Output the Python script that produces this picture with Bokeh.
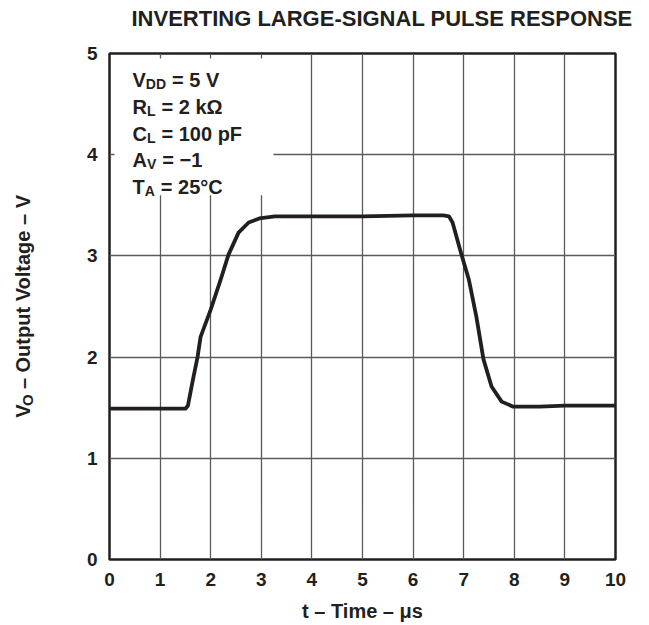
from bokeh.plotting import figure
from bokeh.layouts import row, column
from bokeh.models import Range1d, Label, BoxAnnotation, FixedTicker, Plot
from bokeh.embed import file_html
from bokeh.resources import INLINE
import math

# ---- data ----
time_us = [0, 0.5, 1.0, 1.5, 1.55, 1.65, 1.74, 1.80, 2.0, 2.2, 2.35, 2.55, 2.75,
           2.96, 3.27, 4, 5, 6, 6.6, 6.71, 6.78, 6.94, 7.1, 7.25, 7.39, 7.55,
           7.75, 7.98, 8.5, 9, 10]
vout = [1.49, 1.49, 1.49, 1.49, 1.52, 1.78, 2.0, 2.2, 2.47, 2.77, 3.01, 3.23, 3.33,
        3.37, 3.39, 3.39, 3.39, 3.40, 3.40, 3.39, 3.33, 3.04, 2.77, 2.40, 1.98, 1.71,
        1.56, 1.51, 1.51, 1.52, 1.52]
x_ticks = [0, 1, 2, 3, 4, 5, 6, 7, 8, 9, 10]
y_ticks = [0, 1, 2, 3, 4, 5]
title_text = "INVERTING LARGE-SIGNAL PULSE RESPONSE"
x_label = "t \u2013 Time \u2013 \u03bcs"
y_label_main = "V"
y_label_sub = "O"
y_label_rest = "\u2013 Output Voltage \u2013 V"
cond_main = ["V", "R", "C", "A", "T"]
cond_sub = ["DD", "L", "L", "V", "A"]
cond_rest = ["= 5 V", "= 2 k\u03a9", "= 100 pF", "= \u22121", "= 25\u00b0C"]

FONT = "Liberation Sans"
INK = "#231f20"

# Arial/Liberation Sans Bold advance widths (em)
ADV = {"V": 0.667, "R": 0.722, "C": 0.722, "A": 0.722, "T": 0.611,
       "D": 0.722, "L": 0.611, "O": 0.778}

def adv(s, size):
    return sum(ADV.get(c, 0.6) for c in s) * size

# ---- layout constants (canvas px) ----
LBL_W = 44
TITLE_H = 36
FR_L, FR_R, FR_T, FR_B = 109, 615, 53, 560
TOTAL_H = 624
BODY_H = TOTAL_H - TITLE_H
MAIN_W = (FR_R - LBL_W) + 26
px_x = 10.0 / (FR_R - FR_L)
px_y = 5.0 / (FR_B - FR_T)

def bare_plot(w, h):
    return Plot(width=w, height=h, output_backend="svg", toolbar_location=None,
                x_range=Range1d(0, w), y_range=Range1d(0, h), title=None,
                min_border=0, min_border_left=0, min_border_right=0,
                min_border_top=0, min_border_bottom=0, outline_line_color=None)

# ---- title strip ----
t = bare_plot(LBL_W + MAIN_W, TITLE_H)
t.add_layout(Label(x=131, y=TITLE_H - 18, text=title_text, text_font=FONT,
                   text_font_size="22px", text_font_style="bold", text_color=INK,
                   text_baseline="middle", text_align="left"))

# ---- main plot ----
p = figure(width=MAIN_W, height=BODY_H, output_backend="svg", toolbar_location=None,
           x_range=Range1d(0, 10), y_range=Range1d(0, 5),
           min_border_left=FR_L - LBL_W, min_border_right=26,
           min_border_top=FR_T - TITLE_H, min_border_bottom=TOTAL_H - FR_B)

p.outline_line_color = INK
p.outline_line_width = 2.5
p.outline_line_alpha = 1

for ax, ticks in ((p.xaxis, x_ticks), (p.yaxis, y_ticks)):
    ax.ticker = FixedTicker(ticks=ticks)
    ax.axis_line_color = None
    ax.major_tick_line_color = None
    ax.minor_tick_line_color = None
    ax.major_label_text_font = FONT
    ax.major_label_text_font_size = "19px"
    ax.major_label_text_font_style = "bold"
    ax.major_label_text_color = INK
p.xaxis.major_label_standoff = 7
p.yaxis.major_label_standoff = 6
p.xaxis.axis_label = x_label
p.xaxis.axis_label_text_font = FONT
p.xaxis.axis_label_text_font_size = "20px"
p.xaxis.axis_label_text_font_style = "bold"
p.xaxis.axis_label_text_color = INK
p.xaxis.axis_label_standoff = 11

p.xgrid.grid_line_color = "#5a5a5a"
p.ygrid.grid_line_color = "#5a5a5a"
p.xgrid.grid_line_width = 1.3
p.ygrid.grid_line_width = 1.3

p.line(time_us, vout, line_color=INK, line_width=3.8, line_join="round")

# white box behind the conditions
p.add_layout(BoxAnnotation(left=5 * px_x, right=(273 - FR_L) * px_x,
                           bottom=(FR_B - 195) * px_y, top=5 - 5 * px_y,
                           fill_color="white", fill_alpha=1, line_color=None,
                           level="overlay"))

# conditions text (baselines in canvas px)
baselines = [80, 106.7, 133.3, 160, 186.7]
x0 = (132 - FR_L) * px_x
for yb_px, m, s, r in zip(baselines, cond_main, cond_sub, cond_rest):
    yb = (FR_B - yb_px) * px_y
    p.add_layout(Label(x=x0, y=yb, text=m, text_font=FONT, text_font_size="20px",
                       text_font_style="bold", text_color=INK,
                       text_baseline="alphabetic", level="overlay"))
    wm = adv(m, 20)
    p.add_layout(Label(x=x0 + wm * px_x, y=yb - 4 * px_y, text=s, text_font=FONT,
                       text_font_size="14px", text_font_style="bold", text_color=INK,
                       text_baseline="alphabetic", level="overlay"))
    ws = adv(s, 14)
    p.add_layout(Label(x=x0 + (wm + ws + 6) * px_x, y=yb, text=r, text_font=FONT,
                       text_font_size="20px", text_font_style="bold", text_color=INK,
                       text_baseline="alphabetic", level="overlay"))

# ---- narrow strip carrying the rotated y-axis title ----
q = bare_plot(LBL_W, BODY_H)
SHIFT = 31  # empirical correction for rotated label placement

def qy(page_y):
    return BODY_H - (page_y - TITLE_H) - SHIFT

start_main = 395
w_o = adv(y_label_sub, 15)
q.add_layout(Label(x=22, y=qy(start_main), text=y_label_rest, angle=math.pi / 2,
                   text_font=FONT, text_font_size="20px", text_font_style="bold",
                   text_color=INK, text_baseline="middle", text_align="left"))
q.add_layout(Label(x=27, y=qy(start_main + 6), text=y_label_sub, angle=math.pi / 2,
                   text_font=FONT, text_font_size="15px", text_font_style="bold",
                   text_color=INK, text_baseline="middle", text_align="right"))
q.add_layout(Label(x=22, y=qy(start_main + 6 + w_o), text=y_label_main, angle=math.pi / 2,
                   text_font=FONT, text_font_size="20px", text_font_style="bold",
                   text_color=INK, text_baseline="middle", text_align="right"))

layout = column(t, row(q, p, spacing=0), spacing=0)
open("out.html", "w").write(file_html(layout, INLINE))
